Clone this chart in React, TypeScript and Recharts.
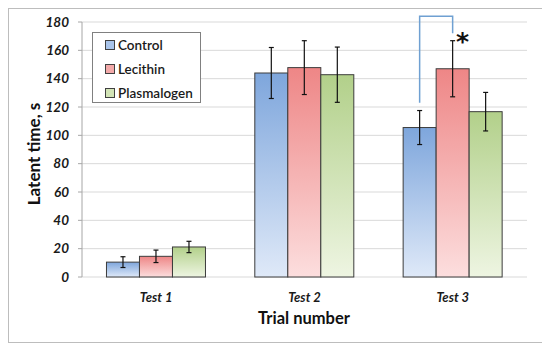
import React from 'react';
import { BarChart, Bar, XAxis, YAxis, CartesianGrid, ErrorBar } from 'recharts';

const trials = ['Test 1', 'Test 2', 'Test 3'];
const controlMean = [10.5, 144, 105.5];
const controlErr = [3.8, 18, 12];
const lecithinMean = [14.6, 147.8, 147];
const lecithinErr = [4.4, 19, 19.8];
const plasmalogenMean = [21.2, 142.8, 116.7];
const plasmalogenErr = [4, 19.5, 13.6];
const yTicks = [0, 20, 40, 60, 80, 100, 120, 140, 160, 180];
const boundaryTicks = [0, 1, 2, 3];

// significance bracket Control vs Lecithin: left foot, top, right foot (in seconds)
const bracketTrial = 'Test 3';
const bracketValues = [123, 184, 172];
const starValue = 170;

const data = trials.map((name, i) => ({
  name,
  control: controlMean[i],
  controlErr: controlErr[i],
  lecithin: lecithinMean[i],
  lecithinErr: lecithinErr[i],
  plasmalogen: plasmalogenMean[i],
  plasmalogenErr: plasmalogenErr[i],
}));

const FONT = 'Lato, "Open Sans", sans-serif';

const series = [
  { key: 'control', label: 'Control', top: '#7ea6dc', bottom: '#dfe9f8', swatch: '#a9c4ea' },
  { key: 'lecithin', label: 'Lecithin', top: '#ee8686', bottom: '#fcdede', swatch: '#f3a9a9' },
  { key: 'plasmalogen', label: 'Plasmalogen', top: '#b2d08a', bottom: '#eef5e2', swatch: '#d2e4b6' },
];

const makeShape = (key: string, withBracket: boolean) => (props: any) => {
  const { x, y, width, height, payload } = props;
  const val = payload[key];
  const rect = (
    <rect x={x} y={y} width={width} height={height} fill={`url(#grad-${key})`} stroke="#3c3c3c" strokeWidth={1} />
  );
  if (!withBracket || payload.name !== bracketTrial) return rect;
  // pixel scale taken from this bar
  const base = y + height;
  const per = height / val;
  const toY = (v: number) => base - v * per;
  const lx = x - width / 2;
  const rx = x + width / 2;
  return (
    <g>
      {rect}
      <polyline
        points={`${lx},${toY(bracketValues[0])} ${lx},${toY(bracketValues[1])} ${rx},${toY(bracketValues[1])} ${rx},${toY(bracketValues[2])}`}
        fill="none"
        stroke="#6fa0d2"
        strokeWidth={1.5}
      />
      <text x={rx + 10} y={toY(starValue) + 14} textAnchor="middle" fontFamily='"DejaVu Sans", sans-serif' fontWeight={700} fontSize={25} fill="#111">
        *
      </text>
    </g>
  );
};

export default function App() {
  return (
    <div style={{ position: 'relative', width: 533, height: 333, border: '1px solid #bdbdbd', fontFamily: FONT }}>
      <BarChart
        width={533}
        height={333}
        data={data}
        margin={{ top: 13, right: 15, left: 0, bottom: 35 }}
        barGap={0}
        barCategoryGap="16.5%"
      >
        <defs>
          {series.map((s) => (
            <linearGradient key={s.key} id={`grad-${s.key}`} x1="0" y1="0" x2="0" y2="1">
              <stop offset="0%" stopColor={s.top} />
              <stop offset="100%" stopColor={s.bottom} />
            </linearGradient>
          ))}
        </defs>
        <CartesianGrid vertical={false} stroke="#d9d9d9" />
        <XAxis
          xAxisId="bounds"
          type="number"
          domain={[0, 3]}
          ticks={boundaryTicks}
          height={0}
          tickSize={5}
          tickFormatter={() => ''}
          stroke="#a6a6a6"
        />
        <XAxis
          dataKey="name"
          height={30}
          axisLine={false}
          tickLine={false}
          tickMargin={10}
          tick={{ fill: '#1a1a1a', fontSize: 13, fontWeight: 700, fontStyle: 'italic', fontFamily: FONT }}
        />
        <YAxis
          width={73}
          domain={[0, 180]}
          ticks={yTicks}
          interval={0}
          tickSize={4}
          tickMargin={9}
          stroke="#a6a6a6"
          tick={{ fill: '#1a1a1a', fontSize: 13.5, fontWeight: 700, fontStyle: 'italic', fontFamily: FONT }}
        />
        {series.map((s) => (
          <Bar
            key={s.key}
            dataKey={s.key}
            isAnimationActive={false}
            shape={makeShape(s.key, s.key === 'lecithin')}
          >
            <ErrorBar dataKey={`${s.key}Err`} width={2.5} stroke="#111" strokeWidth={1.2} />
          </Bar>
        ))}
      </BarChart>

      <div
        style={{
          position: 'absolute', left: 83, top: 23, width: 107, height: 69,
          border: '1px solid #808080', background: '#fff',
        }}
      >
        {series.map((s, i) => (
          <div key={s.key} style={{ position: 'absolute', left: 12, top: 3 + i * 24, height: 18, display: 'flex', alignItems: 'center' }}>
            <span style={{ width: 8, height: 8, border: '1px solid #404040', background: s.swatch, marginRight: 3 }} />
            <span style={{ fontSize: 13.5, fontWeight: 600, color: '#1a1a1a' }}>{s.label}</span>
          </div>
        ))}
      </div>

      <div
        style={{
          position: 'absolute', left: 24, top: 145, transform: 'translate(-50%, -50%) rotate(-90deg)',
          whiteSpace: 'nowrap', fontSize: 17, fontWeight: 700, color: '#111',
        }}
      >
        Latent time, s
      </div>
      <div
        style={{
          position: 'absolute', left: 295, top: 309, transform: 'translate(-50%, -50%)',
          whiteSpace: 'nowrap', fontSize: 16.5, fontWeight: 700, color: '#111',
        }}
      >
        Trial number
      </div>
    </div>
  );
}
